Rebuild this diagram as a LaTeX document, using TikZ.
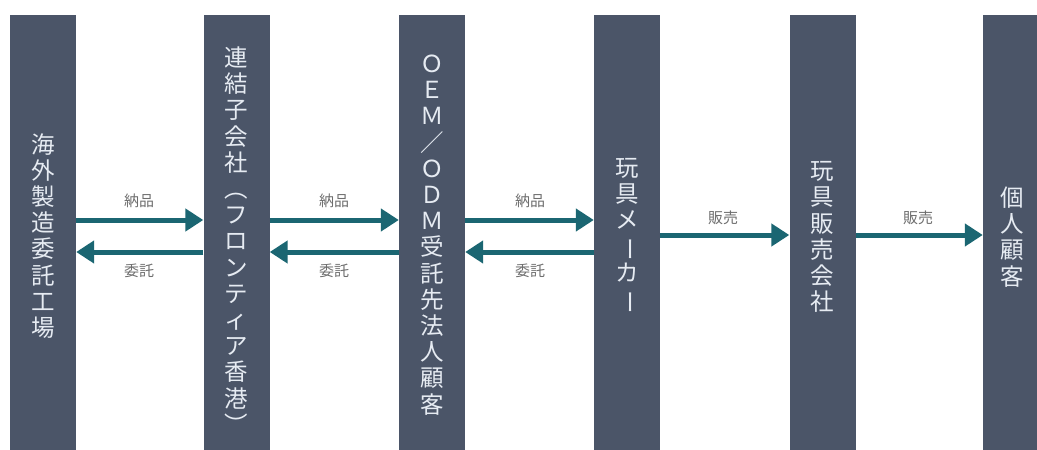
\documentclass[tikz,border=0pt]{standalone}
\usepackage{fontspec}
\newfontfamily\jpfont{Noto Sans CJK JP}
\usetikzlibrary{arrows.meta}
\definecolor{barcol}{HTML}{4B5568}
\definecolor{txtcol}{HTML}{E6EBF2}
\definecolor{arrcol}{HTML}{1B6672}
\definecolor{lblcol}{HTML}{6E6E6E}
\newcommand\vbar{\rotatebox[origin=c]{-90}{ー}}
\begin{document}
\begin{tikzpicture}[x=1pt,y=-1pt,
  bar/.style={fill=barcol,draw=none,minimum width=66pt,minimum height=440pt,inner sep=0pt},
  vtxt/.style={text=txtcol,font=\jpfont\fontsize{23.5}{26.2}\selectfont,align=center,inner sep=0pt},
  arr/.style={draw=arrcol,line width=5pt,-{Triangle[length=18pt,width=22pt]}},
  lbl/.style={text=lblcol,font=\jpfont\fontsize{15}{17}\selectfont,inner sep=0pt}]
\useasboundingbox (0,0) rectangle (1037,450);
% bars
\node[bar] (b1) at (43,235) {};
\node[bar] (b2) at (236.5,235) {};
\node[bar] (b3) at (432,235) {};
\node[bar] (b4) at (627,235) {};
\node[bar] (b5) at (822.5,235) {};
\node[bar] (b6) at (1016,235) {};
% bar texts
\node[vtxt] (t1) at (43,236) {海\\外\\製\\造\\委\\託\\工\\場};
\node[vtxt] (t2) at (236.5,240) {連\\結\\子\\会\\社\\︵\\フ\\ロ\\ン\\テ\\ィ\\ア\\香\\港\\︶};
\node[vtxt] (t3) at (432,235) {Ｏ\\Ｅ\\Ｍ\\／\\Ｏ\\Ｄ\\Ｍ\\受\\託\\先\\法\\人\\顧\\客};
\node[vtxt] (t4) at (627,236) {玩\\具\\メ\\\vbar\\カ\\\vbar};
\node[vtxt] (t5) at (822.5,237) {玩\\具\\販\\売\\会\\社};
\node[vtxt] (t6) at (1012,237) {個\\人\\顧\\客};
% arrows
\draw[arr] (b1.east |- 0,220) -- (b2.west |- 0,220);
\draw[arr] (b2.west |- 0,252) -- (b1.east |- 0,252);
\draw[arr] (b2.east |- 0,220) -- (b3.west |- 0,220);
\draw[arr] (b3.west |- 0,252) -- (b2.east |- 0,252);
\draw[arr] (b3.east |- 0,220) -- (b4.west |- 0,220);
\draw[arr] (b4.west |- 0,252) -- (b3.east |- 0,252);
\draw[arr] (b4.east |- 0,235) -- (b5.west |- 0,235);
\draw[arr] (b5.east |- 0,235) -- (b6.west |- 0,235);
% labels
\node[lbl] (l1) at (139,201) {納品};
\node[lbl] (l2) at (139,271) {委託};
\node[lbl] (l3) at (334,201) {納品};
\node[lbl] (l4) at (334,271) {委託};
\node[lbl] (l5) at (530,201) {納品};
\node[lbl] (l6) at (530,271) {委託};
\node[lbl] (l7) at (723,218) {販売};
\node[lbl] (l8) at (918,218) {販売};
\end{tikzpicture}
\end{document}
